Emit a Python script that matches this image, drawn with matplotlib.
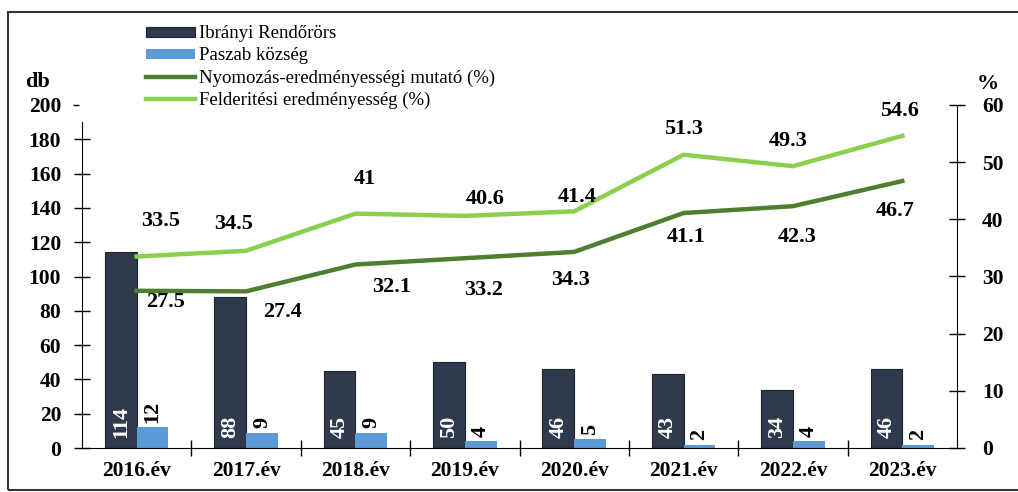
import numpy as np
import matplotlib
matplotlib.use('Agg')
import matplotlib.pyplot as plt
import matplotlib.transforms as mtransforms
from matplotlib.patches import Rectangle

plt.rcParams['font.family'] = ['Liberation Serif', 'DejaVu Serif']

# Data
years = ['2016.év', '2017.év', '2018.év', '2019.év', '2020.év', '2021.év', '2022.év', '2023.év']
ibrany = [114, 88, 45, 50, 46, 43, 34, 46]
paszab = [12, 9, 9, 4, 5, 2, 4, 2]
nyomozas = [27.5, 27.4, 32.1, 33.2, 34.3, 41.1, 42.3, 46.7]
felderites = [33.5, 34.5, 41, 40.6, 41.4, 51.3, 49.3, 54.6]

# label placement relative to each line point (x in categories, y in %)
felder_dx = [0.22, -0.11, 0.09, 0.19, 0.03, 0.0, -0.04, -0.03]
felder_dy = [6.2, 4.7, 6.1, 3.0, 2.5, 4.5, 4.4, 4.3]
nyom_dx = [0.26, 0.33, 0.33, 0.17, -0.03, 0.02, 0.04, -0.07]
nyom_dy = [-2.0, -3.6, -3.9, -5.6, -4.9, -4.2, -5.4, -5.2]

c_dark = '#2f3a4d'
c_blue = '#5b9bd5'
c_green_dark = '#4e7f31'
c_green_light = '#8ccf4d'

W, H = 1018, 492
fig = plt.figure(figsize=(W / 100, H / 100), dpi=100)

# outer frame
fig.patches.append(Rectangle((8 / W, 1 - 490 / H), 1.2, (490 - 12) / H,
                             transform=fig.transFigure, fill=False,
                             edgecolor='#333333', linewidth=1.5))

ax = fig.add_axes([82 / W, 1 - 448 / H, (957 - 82) / W, (448 - 105) / H])
ax2 = ax.twinx()

x = np.arange(len(years))
bw = 0.29
b1 = ax.bar(x - bw / 2, ibrany, bw, color=c_dark, edgecolor='#1c2230', linewidth=0.8,
            label='Ibrányi Rendőrörs')
b2 = ax.bar(x + bw / 2, paszab, bw, color=c_blue, linewidth=0, label='Paszab község')

bold = dict(fontsize=16, fontweight='bold')
for i, v in enumerate(ibrany):
    ax.annotate(str(v), (x[i] - bw / 2, 0), xytext=(0, 7), textcoords='offset points',
                rotation=90, ha='center', va='bottom', color='white', **bold)
for i, v in enumerate(paszab):
    ax.annotate(str(v), (x[i] + bw / 2, v), xytext=(0, 3), textcoords='offset points',
                rotation=90, ha='center', va='bottom', color='black', **bold)

l1, = ax2.plot(x, nyomozas, color=c_green_dark, linewidth=3.2,
               label='Nyomozás-eredményességi mutató (%)')
l2, = ax2.plot(x, felderites, color=c_green_light, linewidth=3.2,
               label='Felderitési eredményesség (%)')

for i, v in enumerate(felderites):
    ax2.text(x[i] + felder_dx[i], v + felder_dy[i], str(v), ha='center', va='center', **bold)
for i, v in enumerate(nyomozas):
    ax2.text(x[i] + nyom_dx[i], v + nyom_dy[i], str(v), ha='center', va='center', **bold)

ax.set_xlim(-0.5, 7.5)
ax.set_ylim(0, 200)
ax2.set_ylim(0, 60)
ax.set_yticks(np.arange(0, 201, 20))
ax2.set_yticks(np.arange(0, 61, 10))

ax.set_xticks(np.arange(0.5, 7, 1))
ax.set_xticklabels([])
ax.set_xticks(x, minor=True)
ax.set_xticklabels(years, minor=True, fontsize=15.5, fontweight='bold')
ax.tick_params(axis='x', which='major', direction='inout', length=11, width=1)
ax.tick_params(axis='x', which='minor', length=0, pad=9)
ax.tick_params(axis='y', direction='inout', length=12, width=1, pad=9, labelsize=15.5)
ax2.tick_params(axis='y', direction='inout', length=12, width=1, pad=12, labelsize=15.5)
for t in ax.get_yticklabels() + ax2.get_yticklabels():
    t.set_fontweight('bold')

for s in ['top', 'right']:
    ax.spines[s].set_visible(False)
for s in ['top', 'left', 'bottom']:
    ax2.spines[s].set_visible(False)
ax.spines['left'].set_bounds(0, 190)
# the 200 tick is only a short dash left of the (shortened) axis line
top_tick = ax.yaxis.get_major_ticks()[-1].tick1line
top_tick.set_markersize(5)
top_tick.set_transform(ax.get_yaxis_transform(which='tick1') +
                       mtransforms.ScaledTranslation(-4 / 72, 0, fig.dpi_scale_trans))

fig.text(38 / W, 1 - 82 / H, 'db', ha='center', va='center', **bold)
fig.text(988 / W, 1 - 84 / H, '%', ha='center', va='center', **bold)

fig.legend(handles=[b1, b2, l1, l2], loc='upper left', bbox_to_anchor=(0.131, 0.975),
           frameon=False, fontsize=13.5, handlelength=2.6, handleheight=0.45,
           handletextpad=0.2, labelspacing=0.27, borderpad=0.2)

fig.savefig('out.png', dpi=100)
